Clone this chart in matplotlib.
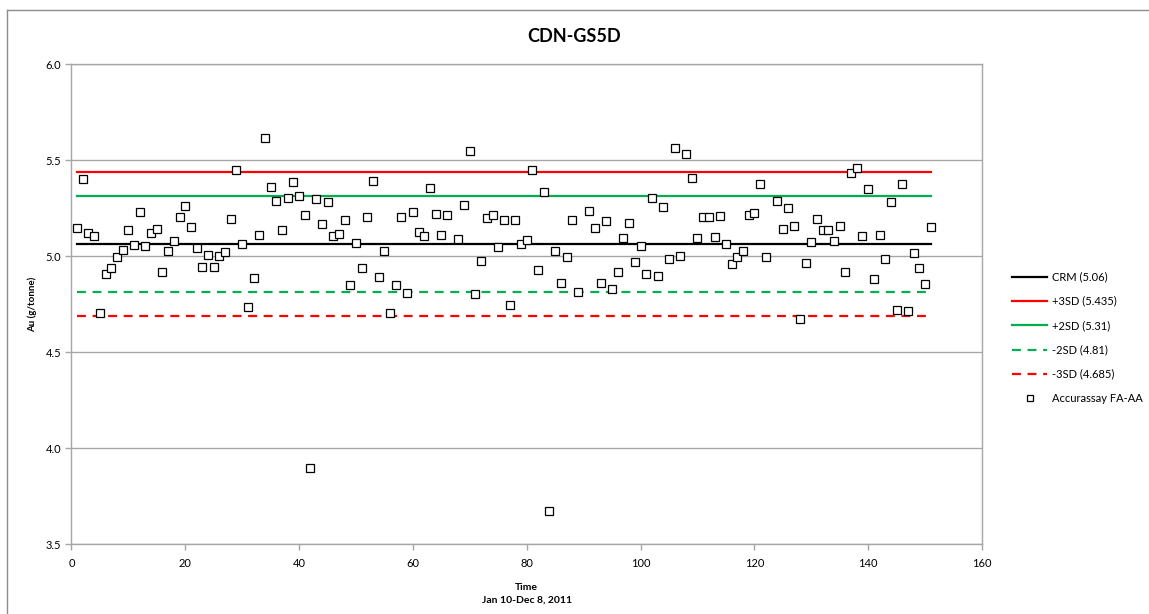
import numpy as np
import matplotlib
matplotlib.use("Agg")
import matplotlib.pyplot as plt
from matplotlib.lines import Line2D

plt.rcParams['font.family'] = ['Lato', 'DejaVu Sans']

# ---- data ----
sample_no = list(range(1, 152))
au_values = [
    5.144, 5.399, 5.122, 5.104, 4.701, 4.908, 4.936, 4.997, 5.033, 5.135,
    5.059, 5.227, 5.054, 5.122, 5.139, 4.915, 5.028, 5.076, 5.205, 5.259,
    5.153, 5.042, 4.941, 5.005, 4.941, 5.002, 5.021, 5.194, 5.446, 5.064,
    4.733, 4.884, 5.111, 5.613, 5.358, 5.288, 5.134, 5.302, 5.387, 5.314,
    5.215, 3.894, 5.299, 5.167, 5.281, 5.106, 5.116, 5.186, 4.849, 5.068,
    4.939, 5.201, 5.391, 4.889, 5.028, 4.703, 4.847, 5.205, 4.809, 5.229,
    5.125, 5.106, 5.354, 5.219, 5.111, 5.214, np.nan, 5.087, 5.264, 5.549,
    4.804, 4.974, 5.200, 5.214, 5.047, 5.189, 4.743, 5.186, 5.064, 5.085,
    5.446, 4.927, 5.335, 3.672, 5.026, 4.858, 4.993, 5.188, 4.811, np.nan,
    5.236, 5.146, 4.858, 5.181, 4.828, 4.915, 5.095, 5.170, 4.970, 5.050,
    4.908, 5.302, 4.894, 5.255, 4.983, 5.561, 5.002, 5.530, 5.406, 5.094,
    5.205, 5.201, 5.099, 5.208, 5.063, 4.960, 4.997, 5.024, 5.215, 5.224,
    5.373, 4.997, np.nan, 5.286, 5.139, 5.252, 5.158, 4.674, 4.965, 5.075,
    5.193, 5.137, 5.137, 5.080, 5.156, 4.915, 5.434, 5.460, 5.106, 5.351,
    4.880, 5.111, 4.983, 5.281, 4.720, 5.375, 4.714, 5.016, 4.939, 4.856,
    5.149,
]
crm = 5.06
plus3sd = 5.435
plus2sd = 5.31
minus2sd = 4.81
minus3sd = 4.685
line_labels = ['CRM (5.06)', '+3SD (5.435)', '+2SD (5.31)', '-2SD (4.81)', '-3SD (4.685)']
series_label = 'Accurassay FA-AA'
title = 'CDN-GS5D'
x_ticks = [0, 20, 40, 60, 80, 100, 120, 140, 160]
y_ticks = [3.5, 4.0, 4.5, 5.0, 5.5, 6.0]

W, H = 1149, 614
fig = plt.figure(figsize=(W / 100, H / 100), dpi=100)

# chart area border (only left and top edges are visible in the crop)
fig.add_artist(Line2D([7 / W, 7 / W], [0, 1 - 10 / H], transform=fig.transFigure,
                      color='#8c8c8c', lw=1.0))
fig.add_artist(Line2D([7 / W, 1], [1 - 10 / H, 1 - 10 / H], transform=fig.transFigure,
                      color='#8c8c8c', lw=1.0))

ax = fig.add_axes([71.4 / W, 1 - 544 / H, (982 - 71.4) / W, (544 - 64) / H])

xs = [sample_no[0], sample_no[-1]]
lw = 1.6
ax.plot(xs, [crm, crm], color='black', lw=lw, label=line_labels[0], zorder=3)
ax.plot(xs, [plus3sd, plus3sd], color='#ff0000', lw=lw, label=line_labels[1], zorder=3)
ax.plot(xs, [plus2sd, plus2sd], color='#00b050', lw=lw, label=line_labels[2], zorder=3)
ax.plot(xs, [minus2sd, minus2sd], color='#00b050', lw=lw, ls=(0, (4, 3)), label=line_labels[3], zorder=3)
ax.plot(xs, [minus3sd, minus3sd], color='#ff0000', lw=lw, ls=(0, (4, 3)), label=line_labels[4], zorder=3)
ax.plot(sample_no, au_values, ls='none', marker='s', markersize=5.6,
        markerfacecolor='white', markeredgecolor='black', markeredgewidth=0.9,
        label=series_label, zorder=4)

ax.set_xlim(0, 160)
ax.set_ylim(3.5, 6.0)
ax.set_xticks(x_ticks)
ax.set_yticks(y_ticks)
ax.set_yticklabels([f'{v:.1f}' for v in y_ticks])
ax.yaxis.grid(True, color='#a6a6a6', lw=1.0, zorder=0)
ax.set_axisbelow(True)
for s in ax.spines.values():
    s.set_color('#a6a6a6')
    s.set_linewidth(1.0)
ax.tick_params(axis='both', colors='#a6a6a6', labelcolor='black', labelsize=8, length=4, width=1)
ax.tick_params(axis='x', pad=6)

ax.set_ylabel('Au (g/tonne)', fontsize=7, fontweight='bold', labelpad=6)
ax.set_xlabel('Time\nJan 10-Dec 8, 2011', fontsize=7.5, fontweight='bold', labelpad=10,
              linespacing=1.5)
fig.text(0.5, 1 - 36 / H, title, ha='center', va='center',
         fontsize=13, fontweight='bold')

leg = ax.legend(loc='upper left', bbox_to_anchor=(1008 / W, 1 - 267 / H),
                bbox_transform=fig.transFigure, frameon=False, fontsize=8,
                handlelength=3.1, labelspacing=1.2, handletextpad=0.5, borderaxespad=0)
for h in leg.legend_handles:
    if hasattr(h, 'set_markersize'):
        h.set_markersize(4.5)

fig.savefig('out.png', dpi=100)
